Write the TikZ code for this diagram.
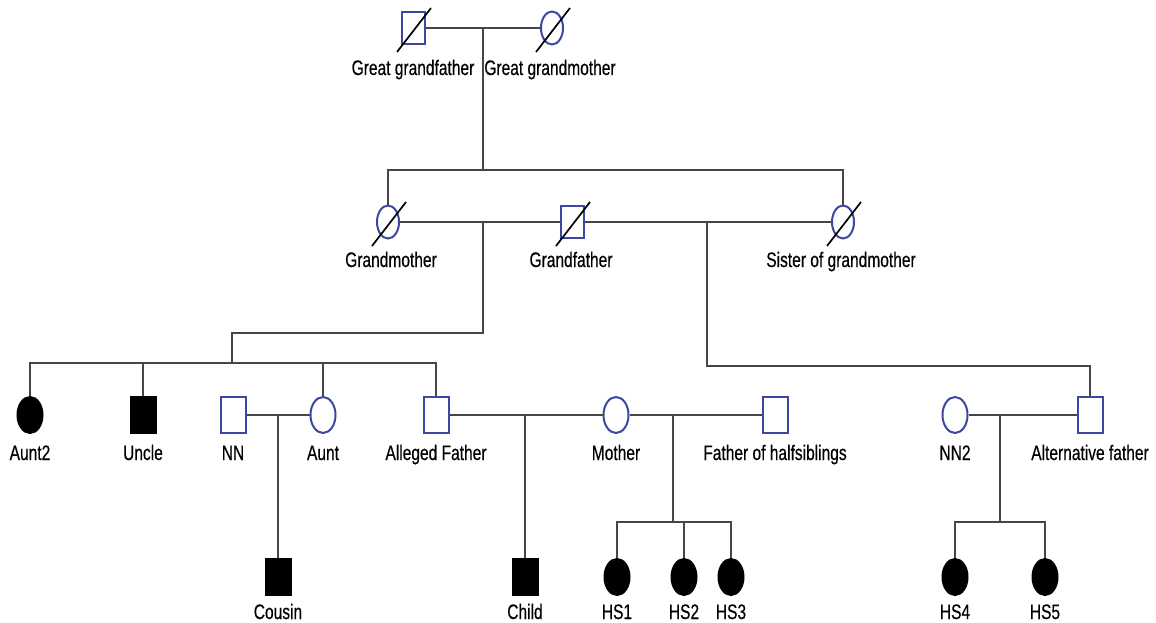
\documentclass[tikz,border=0pt]{standalone}
\usepackage{fontspec}
\newfontfamily\labfont[FakeStretch=0.74,FakeBold=0.4]{Liberation Sans}
\usetikzlibrary{shapes.geometric}
\definecolor{symblue}{RGB}{60,72,160}
\definecolor{linegray}{RGB}{70,70,70}
\begin{document}
\begin{tikzpicture}[x=1pt,y=-1pt,
  male/.style={rectangle,draw=symblue,line width=2pt,minimum width=23pt,minimum height=32pt,inner sep=0pt},
  female/.style={ellipse,draw=symblue,line width=2pt,minimum width=22pt,minimum height=33pt,inner sep=0pt},
  big/.style={minimum width=25pt,minimum height=36pt},
  affected/.style={draw=black,fill=black},
  rel/.style={draw=linegray,line width=1.3pt},
  slash/.style={draw=black,line width=1.7pt},
  lab/.style={font=\labfont\fontsize{21}{21}\selectfont,inner sep=0pt,anchor=base}
]
\useasboundingbox[fill=white] (0,0) rectangle (1156,623);

% generation I
\node[male]   (ggf) at (413,28) {};
\node[female] (ggm) at (552,28) {};
\node[lab] (lggf) at (413,75) {Great grandfather};
\node[lab] (lggm) at (550,75) {Great grandmother};

% generation II
\node[female] (gm)  at (388,222) {};
\node[male]   (gf)  at (572,222) {};
\node[female] (sis) at (843,222) {};
\node[lab] (lgm)  at (391,267) {Grandmother};
\node[lab] (lgf)  at (571,267) {Grandfather};
\node[lab] (lsis) at (841,267) {Sister of grandmother};

% generation III
\node[female,big,affected] (aunt2)  at (30,415) {};
\node[male,big,affected]   (uncle)  at (143,415) {};
\node[male,big]            (nn)     at (233,415) {};
\node[female,big]          (aunt)   at (323,415) {};
\node[male,big]            (af)     at (436,415) {};
\node[female,big]          (mother) at (616,415) {};
\node[male,big]            (foh)    at (775,415) {};
\node[female,big]          (nn2)    at (955,415) {};
\node[male,big]            (altf)   at (1090,415) {};
\node[lab] (launt2)  at (30,460)   {Aunt2};
\node[lab] (luncle)  at (143,460)  {Uncle};
\node[lab] (lnn)     at (233,460)  {NN};
\node[lab] (launt)   at (323,460)  {Aunt};
\node[lab] (laf)     at (436,460)  {Alleged Father};
\node[lab] (lmother) at (616,460)  {Mother};
\node[lab] (lfoh)    at (775,460)  {Father of halfsiblings};
\node[lab] (lnn2)    at (955,460)  {NN2};
\node[lab] (laltf)   at (1090,460) {Alternative father};

% generation IV
\node[male,big,affected]   (cousin) at (278,577) {};
\node[male,big,affected]   (child)  at (525,577) {};
\node[female,big,affected] (hs1)    at (617,577) {};
\node[female,big,affected] (hs2)    at (684,577) {};
\node[female,big,affected] (hs3)    at (731,577) {};
\node[female,big,affected] (hs4)    at (955,577) {};
\node[female,big,affected] (hs5)    at (1045,577) {};
\node[lab] (lcousin) at (278,619)  {Cousin};
\node[lab] (lchild)  at (525,619)  {Child};
\node[lab] (lhs1)    at (617,619)  {HS1};
\node[lab] (lhs2)    at (684,619)  {HS2};
\node[lab] (lhs3)    at (731,619)  {HS3};
\node[lab] (lhs4)    at (955,619)  {HS4};
\node[lab] (lhs5)    at (1045,619) {HS5};

% junction points of the line system
\coordinate (m1) at (483,28);
\coordinate (s1) at (483,170);
\coordinate (m2) at (483,222);
\coordinate (b2) at (483,333);
\coordinate (s2) at (232,363);
\coordinate (m2r) at (707,222);
\coordinate (b2r) at (707,366);
\coordinate (m3) at (278,415);
\coordinate (m4) at (525,415);
\coordinate (m5) at (673,415);
\coordinate (s5) at (673,522);
\coordinate (m6) at (1000,415);
\coordinate (s6) at (1000,522);

% marriages, descents and sibships
\draw[rel] (ggf) -- (ggm);
\draw[rel] (m1) -- (s1);
\draw[rel] (gm.north) |- (s1) -| (sis.north);
\draw[rel] (gm) -- (gf) -- (sis);
\draw[rel] (m2) -- (b2) -| (s2);
\draw[rel] (aunt2.north) |- (s2) -| (af.north);
\draw[rel] (uncle.north) -- (uncle.north |- s2);
\draw[rel] (aunt.north) -- (aunt.north |- s2);
\draw[rel] (m2r) -- (b2r) -| (altf.north);
\draw[rel] (nn) -- (aunt);
\draw[rel] (m3) -- (cousin.north);
\draw[rel] (af) -- (mother) -- (foh);
\draw[rel] (m4) -- (child.north);
\draw[rel] (m5) -- (s5);
\draw[rel] (hs1.north) |- (s5) -| (hs3.north);
\draw[rel] (hs2.north) -- (hs2.north |- s5);
\draw[rel] (nn2) -- (altf);
\draw[rel] (m6) -- (s6);
\draw[rel] (hs4.north) |- (s6) -| (hs5.north);

% deceased marks
\foreach \p in {ggf,ggm,gm,gf,sis}
  \draw[slash] ([shift={(-16,24)}]\p.center) -- ([shift={(18,-20)}]\p.center);
\end{tikzpicture}
\end{document}
